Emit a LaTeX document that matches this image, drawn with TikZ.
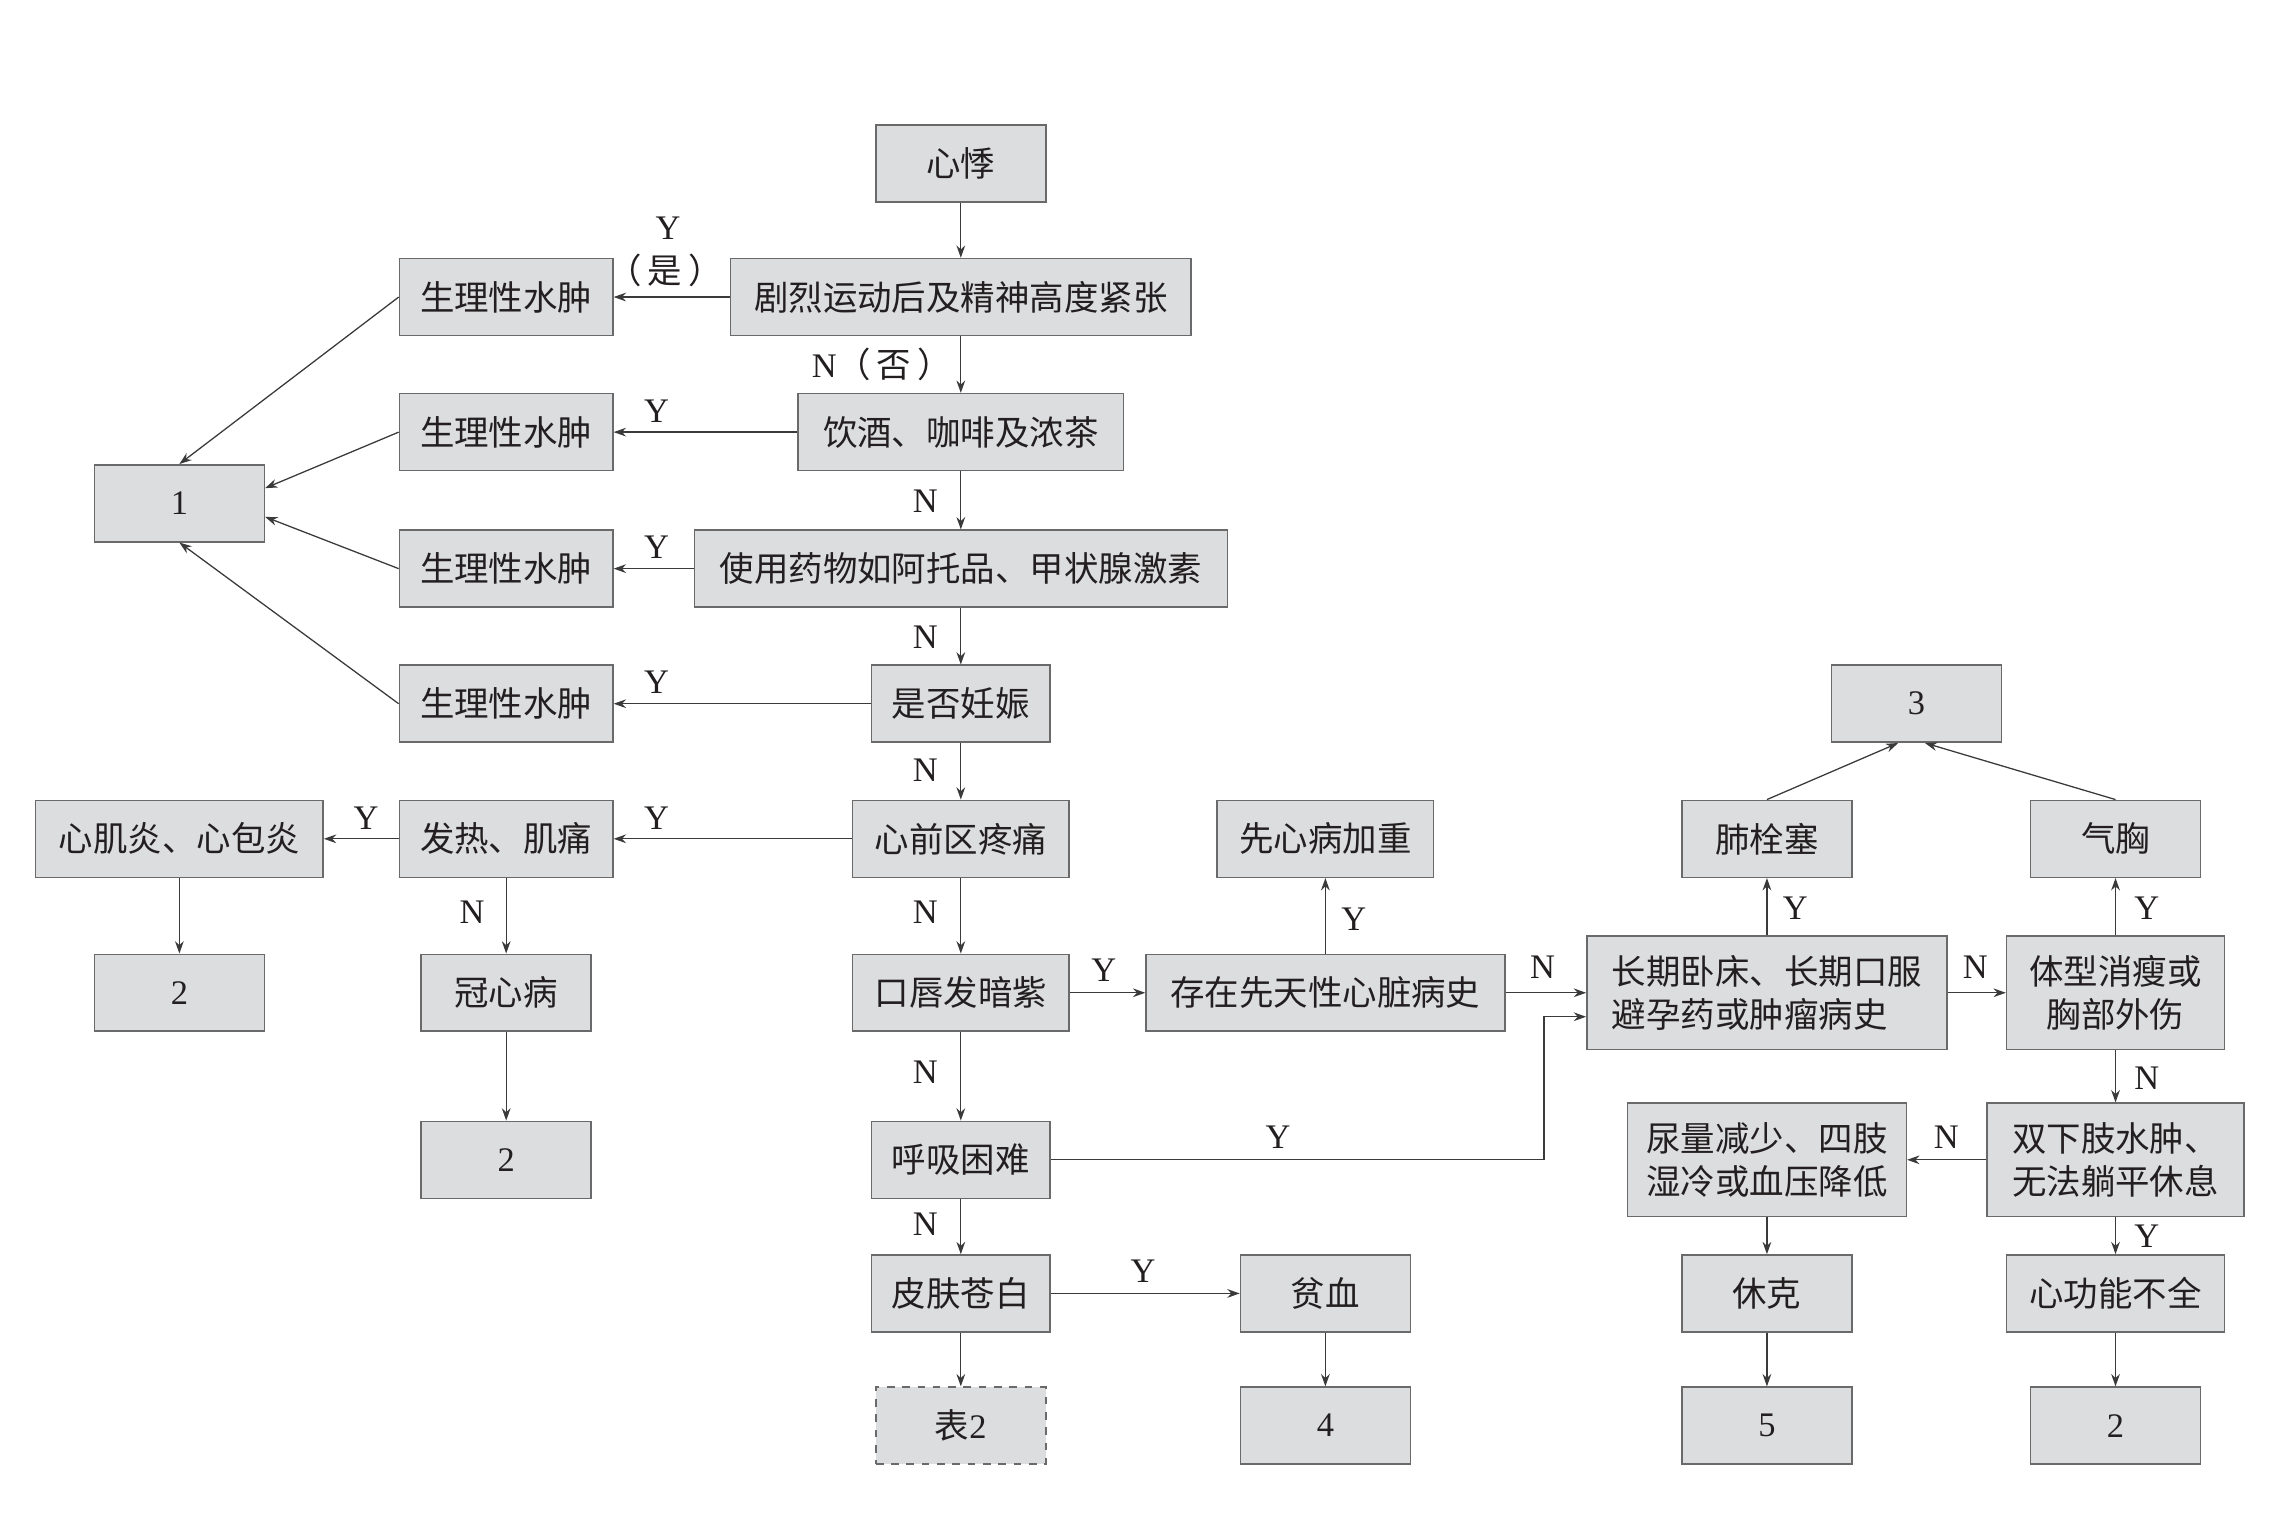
\documentclass[tikz,border=0pt]{standalone}
\usepackage{fontspec}
\setmainfont{Liberation Serif}
\newfontfamily\cjk{Noto Sans CJK SC}
\usetikzlibrary{arrows.meta}

\definecolor{boxfill}{HTML}{DCDDDF}
\definecolor{boxline}{HTML}{6A6A6A}
\definecolor{linkline}{HTML}{3A3A3A}
\definecolor{inkgray}{HTML}{231F20}

\def\xone{123.5}
\def\xtwo{348.5}
\def\xthree{661.5}
\def\xfour{912.5}
\def\xfive{1216.5}
\def\xsix{1456.5}
\def\yone{112.5}
\def\ytwo{204.5}
\def\ythree{297.5}
\def\yfour{391.5}
\def\yfive{484.5}
\def\ysix{577.5}
\def\yseven{683.5}
\def\yeight{798.5}
\def\ynine{890.5}
\def\yten{981.5}

\begin{document}
\begin{tikzpicture}[x=0.02cm,y=-0.02cm,
    box/.style={draw=boxline, fill=boxfill, line width=0.6pt, inner sep=0pt,
        minimum height=1.06cm, text=inkgray, font=\fontsize{13.5}{17}\selectfont\cjk},
    tallbox/.style={box, minimum height=1.56cm, align=center},
    numbox/.style={box, minimum width=2.34cm, font=\fontsize{13.5}{17}\selectfont\rmfamily},
    lab/.style={inner sep=0pt, text=inkgray, font=\fontsize{13.5}{17}\selectfont},
    arr/.style={draw=linkline, line width=0.5pt, -{Stealth[length=1.7mm, width=1.2mm]}}]
    \path[use as bounding box, fill=white] (0,0) rectangle (1567,1057.5);

    % main column
    \node[box, minimum width=2.34cm] (xj) at (\xthree,\yone) {心悸};
    \node[box, minimum width=6.34cm] (jl) at (\xthree,\ytwo) {剧烈运动后及精神高度紧张};
    \node[box, minimum width=4.48cm] (yj) at (\xthree,\ythree) {饮酒、咖啡及浓茶};
    \node[box, minimum width=7.34cm] (yw) at (\xthree,\yfour) {使用药物如阿托品、甲状腺激素};
    \node[box, minimum width=2.46cm] (rs) at (\xthree,\yfive) {是否妊娠};
    \node[box, minimum width=2.98cm] (xq) at (\xthree,\ysix) {心前区疼痛};
    \node[box, minimum width=2.98cm] (kc) at (\xthree,\yseven) {口唇发暗紫};
    \node[box, minimum width=2.46cm] (hx) at (\xthree,\yeight) {呼吸困难};
    \node[box, minimum width=2.46cm] (pf) at (\xthree,\ynine) {皮肤苍白};
    \node[box, dashed, minimum width=2.34cm] (b2) at (\xthree,\yten) {表{\rmfamily 2}};

    % left side
    \node[box, minimum width=2.94cm] (sl1) at (\xtwo,\ytwo) {生理性水肿};
    \node[box, minimum width=2.94cm] (sl2) at (\xtwo,\ythree) {生理性水肿};
    \node[box, minimum width=2.94cm] (sl3) at (\xtwo,\yfour) {生理性水肿};
    \node[box, minimum width=2.94cm] (sl4) at (\xtwo,\yfive) {生理性水肿};
    \node[numbox] (r1) at (\xone,346.5) {1};
    \node[box, minimum width=2.94cm] (fr) at (\xtwo,\ysix) {发热、肌痛};
    \node[box, minimum width=3.96cm] (xjy) at (\xone,\ysix) {心肌炎、心包炎};
    \node[numbox] (r2a) at (\xone,\yseven) {2};
    \node[box, minimum width=2.34cm] (gxb) at (\xtwo,\yseven) {冠心病};
    \node[numbox] (r2b) at (\xtwo,\yeight) {2};

    % right side
    \node[box, minimum width=4.94cm] (xt) at (\xfour,\yseven) {存在先天性心脏病史};
    \node[box, minimum width=2.98cm] (xxb) at (\xfour,\ysix) {先心病加重};
    \node[box, minimum width=2.34cm] (px) at (\xfour,\ynine) {贫血};
    \node[numbox] (r4) at (\xfour,\yten) {4};
    \node[numbox] (r3) at (1319.5,\yfive) {3};
    \node[box, minimum width=2.34cm] (fs) at (\xfive,\ysix) {肺栓塞};
    \node[box, minimum width=2.34cm] (qx) at (\xsix,\ysix) {气胸};
    \node[tallbox, minimum width=4.96cm, align=left] (cq) at (\xfive,\yseven) {长期卧床、长期口服\\避孕药或肿瘤病史};
    \node[tallbox, minimum width=3.0cm] (tx) at (\xsix,\yseven) {体型消瘦或\\胸部外伤};
    \node[tallbox, minimum width=3.54cm] (sx) at (\xsix,\yeight) {双下肢水肿、\\无法躺平休息};
    \node[tallbox, minimum width=3.84cm] (nl) at (\xfive,\yeight) {尿量减少、四肢\\湿冷或血压降低};
    \node[box, minimum width=2.34cm] (xk) at (\xfive,\ynine) {休克};
    \node[numbox] (r5) at (\xfive,\yten) {5};
    \node[box, minimum width=3.0cm] (xgn) at (\xsix,\ynine) {心功能不全};
    \node[numbox] (r2c) at (\xsix,\yten) {2};
    \coordinate (bend) at (1063,700);

    % connectors
    \draw[arr] (xj) -- (jl);
    \draw[arr] (jl) -- (sl1);
    \draw[arr] (jl) -- (yj);
    \draw[arr] (yj) -- (sl2);
    \draw[arr] (yj) -- (yw);
    \draw[arr] (yw) -- (sl3);
    \draw[arr] (yw) -- (rs);
    \draw[arr] (rs) -- (sl4);
    \draw[arr] (rs) -- (xq);
    \draw[arr] (sl1.west) -- (r1.north);
    \draw[arr] (sl2.west) -- (r1.10);
    \draw[arr] (sl3.west) -- (r1.-9);
    \draw[arr] (sl4.west) -- (r1.south);
    \draw[arr] (xq) -- (fr);
    \draw[arr] (fr) -- (xjy);
    \draw[arr] (xjy) -- (r2a);
    \draw[arr] (fr) -- (gxb);
    \draw[arr] (gxb) -- (r2b);
    \draw[arr] (xq) -- (kc);
    \draw[arr] (kc) -- (xt);
    \draw[arr] (xt) -- (xxb);
    \draw[arr] (xt) -- (cq);
    \draw[arr] (kc) -- (hx);
    \draw[arr] (hx.east) -| (bend) -- (bend -| cq.west);
    \draw[arr] (hx) -- (pf);
    \draw[arr] (pf) -- (px);
    \draw[arr] (pf) -- (b2);
    \draw[arr] (px) -- (r4);
    \draw[arr] (cq) -- (fs);
    \draw[arr] (cq) -- (tx);
    \draw[arr] (fs.north) -- (r3.-115);
    \draw[arr] (qx.north) -- (r3.-78);
    \draw[arr] (tx) -- (qx);
    \draw[arr] (tx) -- (sx);
    \draw[arr] (sx) -- (nl);
    \draw[arr] (sx) -- (xgn);
    \draw[arr] (nl) -- (xk);
    \draw[arr] (xk) -- (r5);
    \draw[arr] (xgn) -- (r2c);

    % Y / N labels
    \node[lab] (ly1) at (460,157) {Y};
    \node[lab, font=\fontsize{13.5}{17}\selectfont\cjk] (ly1b) at (458,186) {（\,是\,）};
    \node[lab] (ln1) at (607,251) {N{\cjk（\,否\,）}};
    \node[lab] (ly2) at (452,283) {Y};
    \node[lab] (ln2) at (637,345) {N};
    \node[lab] (ly3) at (452,377) {Y};
    \node[lab] (ln3) at (637,439) {N};
    \node[lab] (ly4) at (452,470) {Y};
    \node[lab] (ln4) at (637,530) {N};
    \node[lab] (ly5) at (452,563) {Y};
    \node[lab] (ly6) at (252,563) {Y};
    \node[lab] (ln5) at (325,628) {N};
    \node[lab] (ln6) at (637,628) {N};
    \node[lab] (ly7) at (760,668) {Y};
    \node[lab] (ly8) at (932,633) {Y};
    \node[lab] (ln7) at (1062,666) {N};
    \node[lab] (ln8) at (637,738) {N};
    \node[lab] (ly9) at (880,783) {Y};
    \node[lab] (ln9) at (637,843) {N};
    \node[lab] (ly10) at (787,875) {Y};
    \node[lab] (ly11) at (1236,625) {Y};
    \node[lab] (ln10) at (1360,666) {N};
    \node[lab] (ly12) at (1478,625) {Y};
    \node[lab] (ln11) at (1478,742) {N};
    \node[lab] (ln12) at (1340,783) {N};
    \node[lab] (ly13) at (1478,851) {Y};
\end{tikzpicture}
\end{document}
